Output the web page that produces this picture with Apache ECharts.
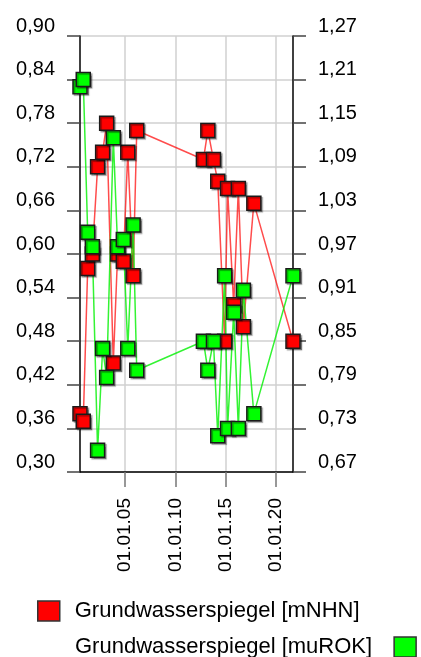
<!DOCTYPE html>
<html>
<head>
<meta charset="utf-8">
<script src="https://cdn.jsdelivr.net/npm/echarts@6/dist/echarts.min.js"></script>
<style>
  html, body { margin: 0; padding: 0; background: #fff; }
  #chart { width: 421px; height: 657px; }
</style>
</head>
<body>
<div id="chart"></div>
<script>
// Measurement dates (spring / autumn readings)
const dates = [
  '2000-07-10', '2000-11-05', '2001-04-15', '2001-10-01', '2002-04-10', '2002-10-10',
  '2003-03-05', '2003-11-01', '2004-04-05', '2004-10-30', '2005-04-10', '2005-10-20',
  '2006-03-01', '2012-10-15', '2013-03-25', '2013-10-15', '2014-03-20', '2014-11-25',
  '2015-03-10', '2015-10-20', '2016-04-05', '2016-10-05', '2017-10-20', '2021-09-10'
];
// Groundwater level, metres above NHN (left axis)
const levelNHN = [
  0.38, 0.37, 0.58, 0.60, 0.72, 0.74, 0.78, 0.45, 0.60, 0.59, 0.74, 0.57,
  0.77, 0.73, 0.77, 0.73, 0.70, 0.48, 0.69, 0.53, 0.69, 0.50, 0.67, 0.48
];
// Groundwater level, metres below top of pipe (right axis)
const levelROK = [
  1.20, 1.21, 1.00, 0.98, 0.70, 0.84, 0.80, 1.13, 0.98, 0.99, 0.84, 1.01,
  0.81, 0.85, 0.81, 0.85, 0.72, 0.94, 0.73, 0.89, 0.73, 0.92, 0.75, 0.94
];
// Tick dates on the time axis
const xTickDates = ['2005-01-01', '2010-01-01', '2015-01-01', '2020-01-01'];
const nameNHN = 'Grundwasserspiegel [mNHN]';
const nameROK = 'Grundwasserspiegel [muROK]';

const ts = dates.map(d => Date.parse(d + 'T00:00:00Z'));
const xTicks = xTickDates.map(d => Date.parse(d + 'T00:00:00Z'));
const pad = n => String(n).padStart(2, '0');
const fmtDate = v => {
  const d = new Date(v);
  return pad(d.getUTCDate()) + '.' + pad(d.getUTCMonth() + 1) + '.' + pad(d.getUTCFullYear() % 100);
};
const fmtNum = v => v.toFixed(2).replace('.', ',');
const FONT = 'Liberation Sans';

const markerStyle = color => ({
  color: color,
  borderColor: '#1a1a1a',
  borderWidth: 1.5,
  shadowColor: 'rgba(0,0,0,0.35)',
  shadowBlur: 1,
  shadowOffsetX: 1.5,
  shadowOffsetY: 1.5
});

const yAxisBase = {
  type: 'value',
  interval: 0.06,
  axisLine: { show: true, lineStyle: { color: '#000', width: 1.5 } },
  axisTick: { show: true, length: 13, lineStyle: { color: '#444', width: 1.5 } },
  axisLabel: {
    fontFamily: FONT, fontSize: 20, color: '#000', margin: 25,
    verticalAlign: 'bottom', lineHeight: 20, formatter: fmtNum
  }
};

const legendBase = {
  orient: 'vertical', padding: 0, icon: 'rect', itemWidth: 22, itemHeight: 20,
  itemStyle: { borderColor: '#333', borderWidth: 1.5, shadowBlur: 0, shadowOffsetX: 0, shadowOffsetY: 0 }
};

const chart = echarts.init(document.getElementById('chart'), null, { renderer: 'canvas' });
chart.setOption({
  animation: false,
  backgroundColor: '#fff',
  grid: { left: 80, right: 128, top: 36, bottom: 185, containLabel: false, outerBoundsMode: 'none' },
  xAxis: {
    type: 'value',
    min: 'dataMin',
    max: 'dataMax',
    axisLine: { show: true, onZero: false, lineStyle: { color: '#000', width: 1.5 } },
    axisTick: { show: true, length: 15, customValues: xTicks, lineStyle: { color: '#777', width: 1.5 } },
    axisLabel: {
      customValues: xTicks, rotate: 90, margin: 26,
      fontFamily: FONT, fontSize: 19, color: '#000', formatter: fmtDate
    },
    splitLine: { show: true, lineStyle: { color: '#d0d0d0', width: 1.5 } }
  },
  yAxis: [
    Object.assign({}, yAxisBase, {
      position: 'left', min: 0.30, max: 0.90,
      splitLine: { show: true, lineStyle: { color: '#d0d0d0', width: 1.5 } }
    }),
    Object.assign({}, yAxisBase, {
      position: 'right', min: 0.67, max: 1.27,
      splitLine: { show: false }
    })
  ],
  legend: [
    Object.assign({}, legendBase, {
      data: [nameNHN], left: 37, top: 600, align: 'left',
      textStyle: { fontFamily: FONT, fontSize: 22, color: '#000', padding: [0, 0, 0, 10] }
    }),
    Object.assign({}, legendBase, {
      data: [nameROK], left: 75, top: 636, align: 'right',
      textStyle: { fontFamily: FONT, fontSize: 22, color: '#000', padding: [0, 17, 0, 0] }
    })
  ],
  series: [
    {
      name: nameNHN, type: 'line', yAxisIndex: 0,
      data: ts.map((t, i) => [t, levelNHN[i]]),
      symbol: 'rect', symbolSize: 14,
      lineStyle: { color: 'rgba(255,0,0,0.7)', width: 1.5 },
      itemStyle: markerStyle('#ff0000'),
      emphasis: { disabled: true }
    },
    {
      name: nameROK, type: 'line', yAxisIndex: 1,
      data: ts.map((t, i) => [t, levelROK[i]]),
      symbol: 'rect', symbolSize: 14,
      lineStyle: { color: 'rgba(0,240,0,0.8)', width: 1.5 },
      itemStyle: markerStyle('#00ff00'),
      emphasis: { disabled: true }
    }
  ]
});
</script>
</body>
</html>
